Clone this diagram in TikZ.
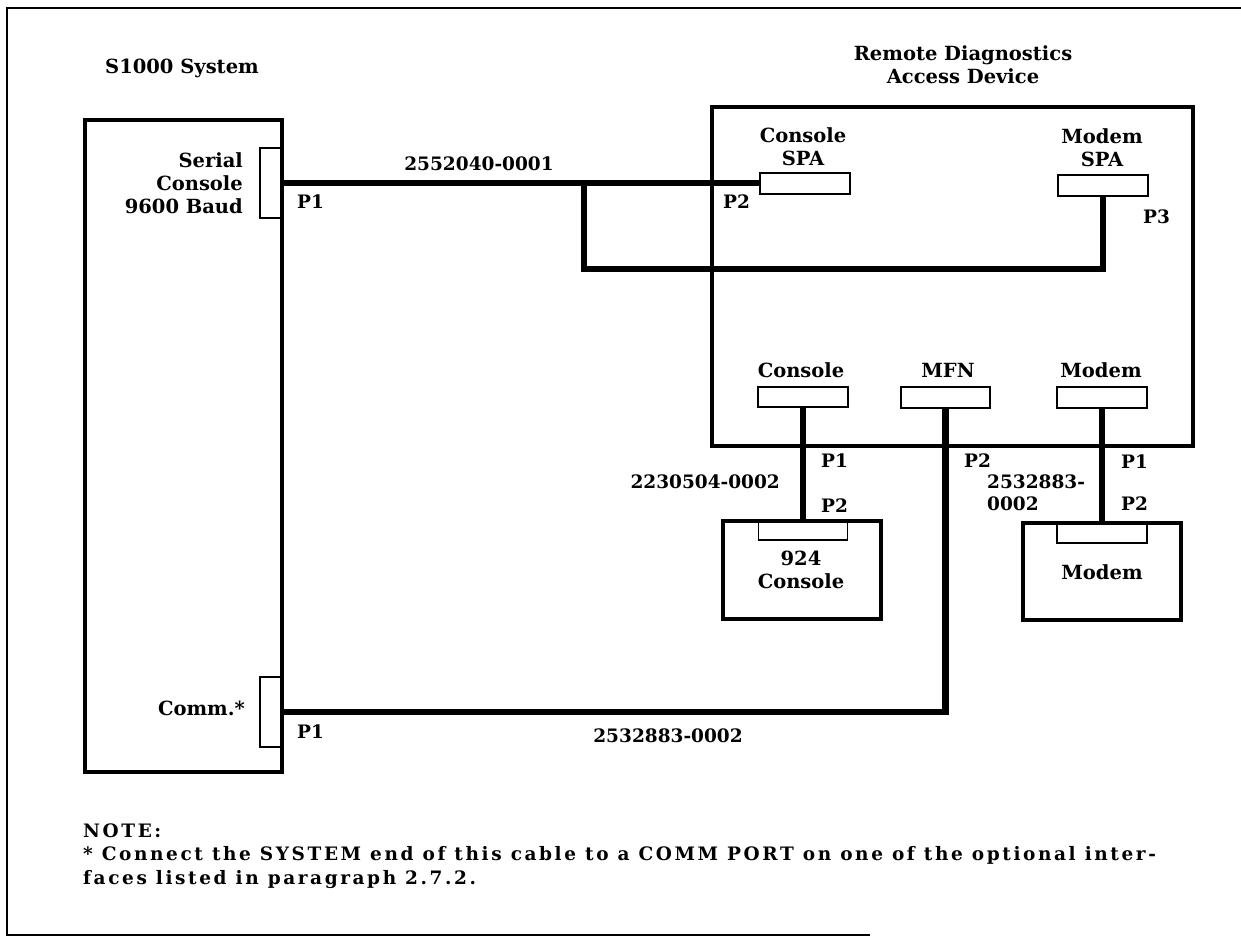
\documentclass[tikz,border=0pt]{standalone}
\usepackage{fontspec}
\setmainfont{DejaVu Serif}
\newfontfamily\notefont{DejaVu Serif}[LetterSpace=14]
\begin{document}
\begin{tikzpicture}[x=1pt,y=-1pt,
  unit/.style={draw,line width=3.5pt,inner sep=0pt,outer sep=0pt},
  port/.style={draw,line width=1.5pt,inner sep=0pt,outer sep=0pt},
  cable/.style={line width=6.5pt},
  lbl/.style={font=\bfseries\fontsize{19.5}{23}\selectfont,inner sep=0pt},
  pin/.style={font=\bfseries\fontsize{18.5}{22}\selectfont,inner sep=0pt},
  note/.style={font=\notefont\bfseries\fontsize{18.5}{23.5}\selectfont,inner sep=0pt,align=left}]
\useasboundingbox (0,0) rectangle (1241,937);
% page frame
\draw[line width=1.5pt] (1241,8) -- (7,8) -- (7,935) -- (870,935);

% units
\node[unit,minimum width=197pt,minimum height=652pt] (sys) at (183.5,446) {};
\node[unit,minimum width=481pt,minimum height=339pt] (rdad) at (952.5,276.5) {};
\node[unit,minimum width=158pt,minimum height=98pt] (term) at (802,570) {};
\node[unit,minimum width=158pt,minimum height=97pt] (mdm) at (1102,571.5) {};

% ports
\node[port,minimum width=22pt,minimum height=70pt] (serial) at (271,183) {};
\node[port,minimum width=22pt,minimum height=70pt] (comm) at (271,712) {};
\node[port,minimum width=90pt,minimum height=21pt] (conspa) at (805,183.5) {};
\node[port,minimum width=90pt,minimum height=21pt] (modspa) at (1103,185.5) {};
\node[port,minimum width=90pt,minimum height=20pt] (conport) at (803,397) {};
\node[port,minimum width=89pt,minimum height=21pt] (mfnport) at (945.5,397.5) {};
\node[port,minimum width=90pt,minimum height=21pt] (modport) at (1102,397.5) {};
\node[port,minimum width=89pt,minimum height=19pt] (termin) at (803,530.5) {};
\node[port,minimum width=90pt,minimum height=20pt] (mdmin) at (1102,533) {};

% cables
\coordinate (tap) at (584,183);
\coordinate (loop) at (584,269);
\draw[cable] (serial.east) -- (conspa.west |- serial.east);
\draw[cable,line join=miter] (tap) -- (loop) -| (modspa.south);
\draw[cable] (conport.south) -- (termin.north);
\draw[cable] (modport.south) -- (mdmin.north);
\draw[cable,line join=miter] (mfnport.south) |- (comm.east);

% texts (base of a multi-line node = its last line)
\node[lbl,anchor=base west] (systitle) at (105,73) {S1000 System};
\node[lbl,anchor=base,align=center] (rdadtitle) at (963,83) {Remote Diagnostics\\Access Device};
\node[lbl,anchor=base east,align=right] (seriallbl) at (243,213) {Serial\\Console\\9600 Baud};
\node[lbl,anchor=base east] (commlbl) at (245,715) {Comm.*};
\node[lbl,anchor=base,align=center] (conspalbl) at (803,165) {Console\\SPA};
\node[lbl,anchor=base,align=center] (modspalbl) at (1102,166) {Modem\\SPA};
\node[lbl,anchor=base] (conportlbl) at (801,377) {Console};
\node[lbl,anchor=base] (mfnlbl) at (948,377) {MFN};
\node[lbl,anchor=base] (modportlbl) at (1101,377) {Modem};
\node[lbl,anchor=base,align=center] (termlbl) at (801,588) {924\\Console};
\node[lbl,anchor=base] (mdmlbl) at (1102,579) {Modem};

\node[pin,anchor=base] (cab1) at (479,170) {2552040-0001};
\node[pin,anchor=base east] (cab2) at (780,488) {2230504-0002};
\node[pin,anchor=base west,align=left] (cab3) at (987,510) {2532883-\\0002};
\node[pin,anchor=base] (cab4) at (668,742) {2532883-0002};

\node[pin,anchor=base west] (p1a) at (297,208) {P1};
\node[pin,anchor=base west] (p2a) at (723,208) {P2};
\node[pin,anchor=base west] (p3a) at (1143,223) {P3};
\node[pin,anchor=base west] (p1b) at (821,467) {P1};
\node[pin,anchor=base west] (p2b) at (821,512) {P2};
\node[pin,anchor=base west] (p2c) at (964,467) {P2};
\node[pin,anchor=base west] (p1c) at (1121,468) {P1};
\node[pin,anchor=base west] (p2d) at (1121,510) {P2};
\node[pin,anchor=base west] (p1d) at (297,738) {P1};

\node[note,anchor=base west] (notetxt) at (83,884) {NOTE:\\* Connect the SYSTEM end of this cable to a COMM PORT on one of the optional inter-\\faces listed in paragraph 2.7.2.};
\end{tikzpicture}
\end{document}
